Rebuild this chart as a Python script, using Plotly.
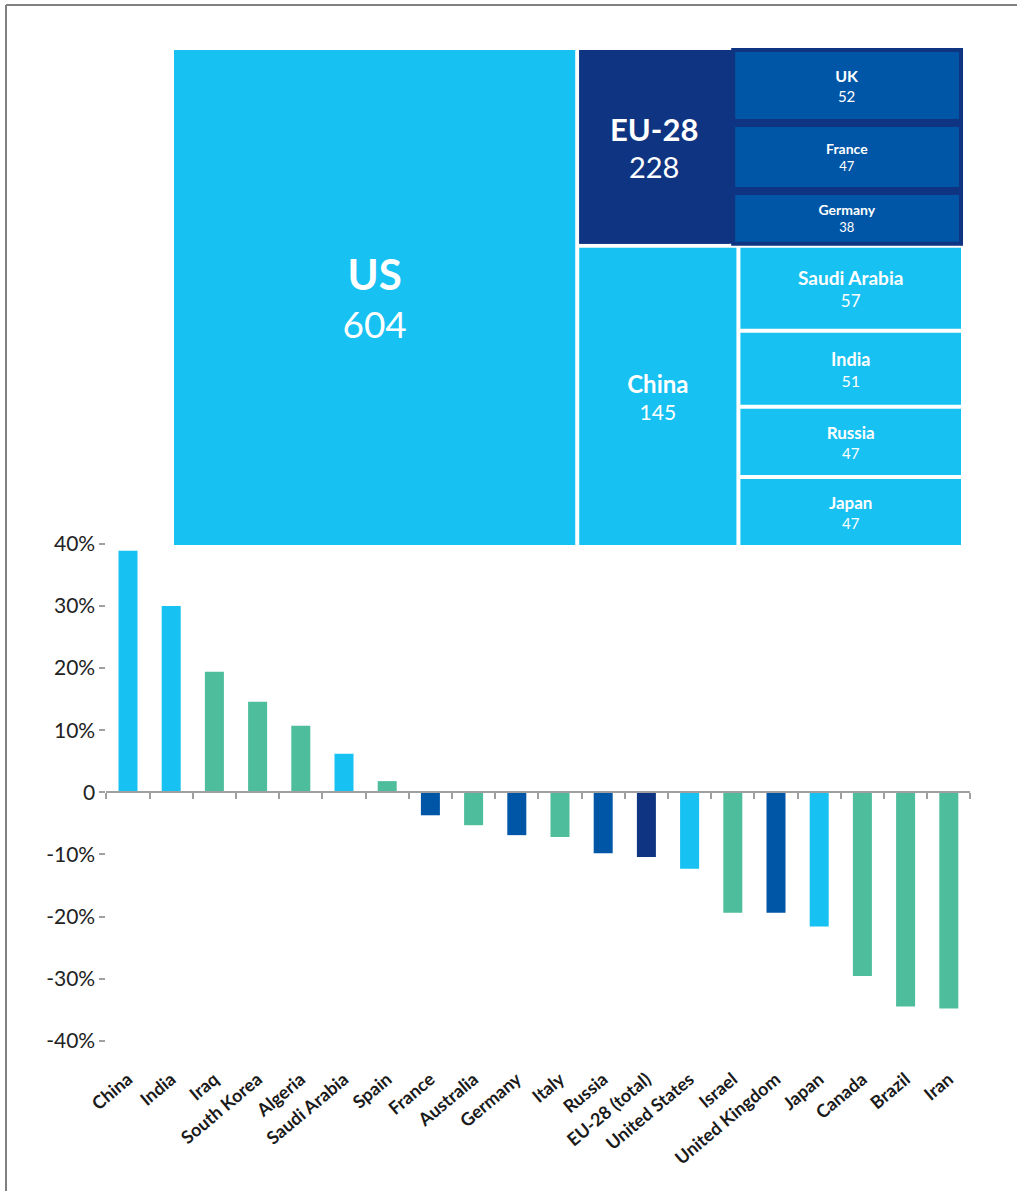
import plotly.graph_objects as go

# ---------------- Data ----------------
# Treemap (values as labelled)
tm_labels = ["US", "EU-28", "UK", "France", "Germany", "China",
             "Saudi Arabia", "India", "Russia", "Japan"]
tm_values = [604, 228, 52, 47, 38, 145, 57, 51, 47, 47]

# Bar chart (% change)
bar_categories = ["China", "India", "Iraq", "South Korea", "Algeria", "Saudi Arabia",
                  "Spain", "France", "Australia", "Germany", "Italy", "Russia",
                  "EU-28 (total)", "United States", "Israel", "United Kingdom",
                  "Japan", "Canada", "Brazil", "Iran"]
bar_values = [38.9, 30.0, 19.4, 14.6, 10.7, 6.2, 1.8, -3.7, -5.3, -6.9, -7.2, -9.8,
              -10.4, -12.3, -19.4, -19.4, -21.6, -29.6, -34.5, -34.8]
bar_groups = ["top", "top", "other", "other", "other", "top", "other", "eu", "other",
              "eu", "other", "eu", "eu_total", "top", "other", "eu", "top", "other",
              "other", "other"]

ytick_vals = [-40, -30, -20, -10, 0, 10, 20, 30, 40]
ytick_text = ["-40%", "-30%", "-20%", "-10%", "0", "10%", "20%", "30%", "40%"]

# ---------------- Styles ----------------
LIGHT = "#17C1F2"
TEAL = "#4DBD9C"
MID = "#0056A6"
NAVY = "#0F3582"
group_colors = {"top": LIGHT, "other": TEAL, "eu": MID, "eu_total": NAVY}
FONT = "Lato"

W, H = 1017, 1191

# ---------------- Treemap hierarchy ----------------
v = dict(zip(tm_labels, tm_values))
eu_members = ["UK", "France", "Germany"]
small = ["Saudi Arabia", "India", "Russia", "Japan"]
eu_mem_sum = sum(v[k] for k in eu_members)
eu_rest = v["EU-28"] - eu_mem_sum
small_sum = sum(v[k] for k in small)
asia_sum = v["China"] + small_sum
rest_sum = v["EU-28"] + asia_sum
root_sum = v["US"] + rest_sum

def fmt(label, value, lsize):
    return f"<span style='font-size:{lsize}px'><b>{label}</b></span><br>{value}"

ids, parents, values, texts, colors, fsizes, lwidths, lcolors = [], [], [], [], [], [], [], []

def add(i, p, val, txt, col, fs=12, lw=0, lc="white"):
    ids.append(i); parents.append(p); values.append(val); texts.append(txt)
    colors.append(col); fsizes.append(fs); lwidths.append(lw); lcolors.append(lc)

add("root", "", root_sum, "", "white")
add("US", "root", v["US"], fmt("US", v["US"], 42), LIGHT, 37)
add("rest", "root", rest_sum, "", "white")
add("EU", "rest", v["EU-28"], "", NAVY)
add("EU_lbl", "EU", eu_rest, fmt("EU-28", v["EU-28"], 31), NAVY, 29)
add("EU_mem", "EU", eu_mem_sum, "", NAVY)
mem_sizes = {"UK": (16, 15), "France": (14, 13), "Germany": (14, 13)}
for k in eu_members:
    ls, vs = mem_sizes[k]
    add(k, "EU_mem", v[k], fmt(k, v[k], ls), MID, vs, 4, NAVY)
add("asia", "rest", asia_sum, "", "white")
add("China", "asia", v["China"], fmt("China", v["China"], 24), LIGHT, 21)
add("small", "asia", small_sum, "", "white")
small_sizes = {"Saudi Arabia": (19, 17), "India": (18, 16), "Russia": (17, 15), "Japan": (17, 15)}
for k in small:
    ls, vs = small_sizes[k]
    add(k, "small", v[k], fmt(k, v[k], ls), LIGHT, vs)

treemap = go.Treemap(
    ids=ids, parents=parents, values=values, labels=ids,
    text=texts, textinfo="text", textposition="middle center",
    branchvalues="total", sort=False,
    marker=dict(colors=colors, line=dict(width=lwidths, color=lcolors),
                pad=dict(t=0, l=0, r=0, b=0)),
    tiling=dict(packing="slice-dice", pad=4),
    textfont=dict(family=FONT, color="white", size=fsizes),
    pathbar=dict(visible=False),
    hoverinfo="skip",
    domain=dict(x=[174 / W, 961 / W], y=[1 - 545 / H, 1 - 50 / H]),
)

# ---------------- Bar chart ----------------
bar = go.Bar(
    x=bar_categories, y=bar_values,
    marker=dict(color=[group_colors[g] for g in bar_groups], line=dict(width=0)),
    width=0.44, xaxis="x", yaxis="y", hoverinfo="skip", showlegend=False,
)
helper = go.Scatter(
    x=bar_categories, y=bar_values, mode="markers", marker=dict(opacity=0),
    xaxis="x2", yaxis="y", hoverinfo="skip", showlegend=False,
)

ZERO_PX = 792.3
PX_PER = 6.21
YR = 41
y_top_px = ZERO_PX - YR * PX_PER
y_bot_px = ZERO_PX + YR * PX_PER
ydom = [1 - y_bot_px / H, 1 - y_top_px / H]
xdom = [106.4 / W, 970.4 / W]
xr = [-0.5, len(bar_categories) - 0.5]

fig = go.Figure([bar, helper, treemap])
fig.update_layout(
    template="none",
    width=W, height=H, autosize=False,
    margin=dict(l=0, r=0, t=0, b=0),
    paper_bgcolor="white", plot_bgcolor="white",
    showlegend=False,
    bargap=0.56,
    xaxis=dict(domain=xdom, range=xr, type="category", categoryarray=bar_categories,
               showgrid=False, zeroline=False, showline=False,
               ticks="outside", ticklen=14, tickcolor="rgba(0,0,0,0)",
               tickangle=-40, automargin=False,
               tickfont=dict(family=FONT, size=18, color="#1a1a1a", weight="bold"),
               anchor="y"),
    xaxis2=dict(domain=xdom, range=xr, type="category", categoryarray=bar_categories,
                overlaying="x", anchor="free", position=1 - ZERO_PX / H,
                side="bottom", showgrid=False, zeroline=False,
                showline=True, linecolor="#A0A0A0", linewidth=2,
                ticks="outside", tickson="boundaries", ticklen=6, tickwidth=1.5,
                tickcolor="#A0A0A0", showticklabels=False, automargin=False),
    yaxis=dict(domain=ydom, range=[-YR, YR], tickvals=ytick_vals, ticktext=ytick_text,
               showgrid=False, zeroline=False, showline=False,
               ticks="outside", ticklen=6, tickwidth=2, tickcolor="#A0A0A0",
               tickfont=dict(family=FONT, size=21, color="#222222"),
               automargin=False, anchor="x"),
    shapes=[
        dict(type="line", xref="paper", yref="paper", x0=6 / W, x1=1, y0=1 - 5 / H, y1=1 - 5 / H,
             line=dict(color="#808080", width=2)),
        dict(type="line", xref="paper", yref="paper", x0=6 / W, x1=6 / W, y0=0, y1=1 - 5 / H,
             line=dict(color="#808080", width=2)),
    ],
)

fig.write_html("out.html", config={"displayModeBar": False},
               post_script="document.body.style.margin='0px';")
